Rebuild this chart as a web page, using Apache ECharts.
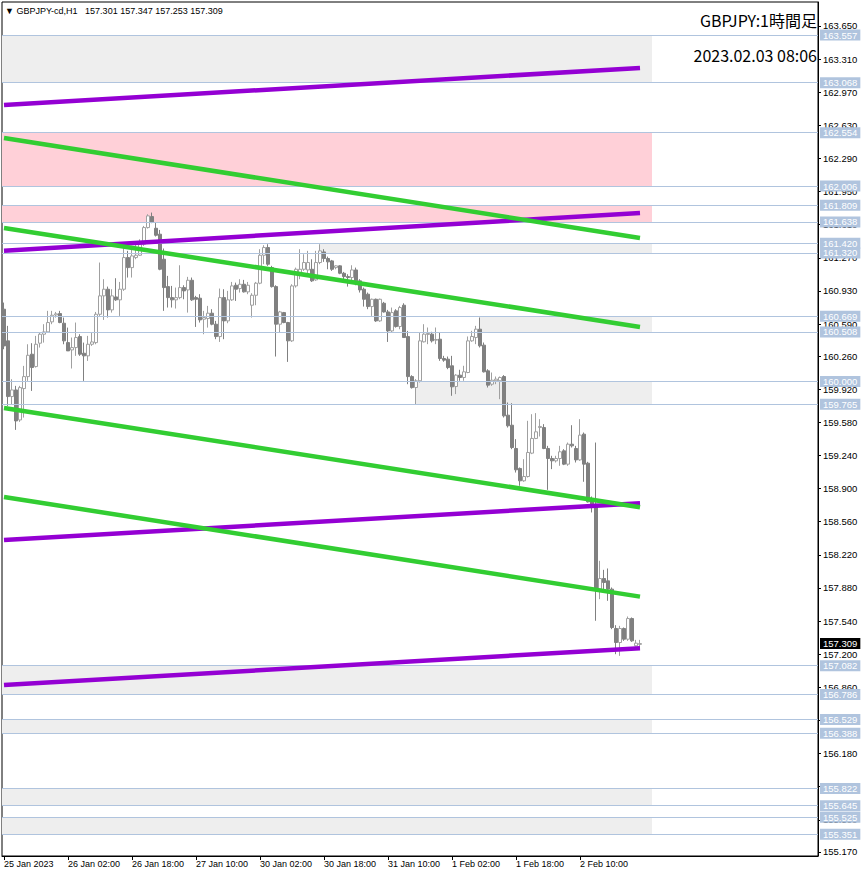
<!DOCTYPE html>
<html><head><meta charset="utf-8">
<script src="https://cdn.jsdelivr.net/npm/echarts@6/dist/echarts.min.js"></script>
<style>html,body{margin:0;padding:0;background:#fff}#c{width:866px;height:876px}</style>
</head><body><div id="c"></div>
<script>
// ---- candle data (GBPJPY H1) ----
const opens = [
160.742,160.417,159.845,159.913,159.605,159.927,160.050,160.280,160.153,160.393,
160.485,160.509,160.612,160.683,160.697,160.598,160.399,160.324,160.348,160.461,
160.290,160.263,160.382,160.399,160.690,160.879,160.947,160.735,160.868,160.838,
160.947,161.272,161.169,161.272,161.296,161.409,161.580,161.693,161.573,161.512,
161.255,160.974,160.861,160.838,160.861,160.964,160.940,161.039,160.861,160.855,
160.639,160.646,160.701,160.588,160.461,160.861,160.622,160.838,160.988,160.954,
160.998,160.920,160.783,160.885,161.009,161.296,161.375,161.169,160.974,160.588,
160.707,160.605,160.417,160.981,161.101,161.152,161.145,161.152,161.043,161.221,
161.330,161.262,161.238,161.169,161.187,161.111,161.077,161.067,161.145,161.033,
160.947,160.896,160.769,160.844,160.622,160.803,160.714,160.519,160.725,160.564,
160.783,160.461,160.050,159.938,160.007,160.407,160.483,160.486,160.424,160.434,
160.236,160.229,160.161,159.948,160.065,160.041,160.092,160.417,160.451,160.537,
160.373,160.109,159.972,160.007,160.007,160.051,159.654,159.551,159.312,159.107,
158.980,159.024,159.264,159.415,159.527,159.527,159.312,159.209,159.185,159.209,
159.288,159.151,159.356,159.312,159.195,159.459,159.161,158.792,158.740,157.868,
157.977,157.953,157.868,157.464,157.320,157.464,157.354,157.566,157.286,157.301];
const highs = [
160.810,160.571,160.023,159.955,159.955,160.160,160.382,160.393,160.468,160.502,
160.588,160.725,160.725,160.714,160.725,160.656,160.553,160.451,160.605,160.485,
160.399,160.468,160.502,160.714,161.221,161.050,160.974,160.947,161.060,161.022,
161.426,161.341,161.392,161.409,161.460,161.597,161.717,161.734,161.631,161.556,
161.365,161.084,160.981,160.964,161.193,160.988,161.074,161.067,160.879,160.896,
160.725,160.776,160.742,160.622,160.954,160.947,160.930,161.022,161.015,161.050,
161.043,161.022,160.906,161.022,161.358,161.399,161.409,161.187,160.988,160.725,
160.714,160.612,160.998,161.169,161.358,161.306,161.341,161.255,161.341,161.409,
161.358,161.282,161.248,161.193,161.193,161.125,161.101,161.193,161.169,161.050,
160.964,160.913,160.851,160.851,160.851,160.817,160.735,160.759,160.742,160.776,
160.803,160.519,160.064,160.024,160.503,160.588,160.554,160.510,160.554,160.503,
160.263,160.256,160.263,160.075,160.120,160.161,160.462,160.520,160.571,160.657,
160.400,160.126,160.092,160.051,160.051,160.065,159.784,159.777,159.408,159.117,
159.202,159.596,159.664,159.675,159.613,159.562,159.339,159.237,159.237,159.339,
159.305,159.373,159.551,159.339,159.613,159.476,159.175,158.819,159.373,158.159,
158.066,158.080,157.885,157.498,157.491,157.474,157.587,157.577,157.347,157.347];
const lows = [
160.331,159.749,159.766,159.503,159.585,159.629,160.006,159.903,160.143,160.348,
160.399,160.502,160.588,160.656,160.598,160.382,160.314,160.133,160.263,160.263,
160.006,160.211,160.365,160.382,160.673,160.632,160.656,160.707,160.827,160.673,
160.930,161.067,161.067,161.255,161.289,161.392,161.570,161.625,161.488,161.142,
160.725,160.759,160.759,160.749,160.844,160.844,160.707,160.827,160.560,160.605,
160.485,160.553,160.577,160.434,160.406,160.434,160.598,160.827,160.827,160.913,
160.913,160.896,160.656,160.783,160.998,161.204,161.187,160.964,160.256,160.502,
160.598,160.201,160.406,160.964,161.050,161.135,161.077,161.022,161.033,161.204,
161.228,161.152,161.135,161.152,161.101,161.050,160.974,161.033,160.988,160.913,
160.769,160.742,160.673,160.612,160.612,160.707,160.406,160.502,160.553,160.536,
160.451,159.972,159.927,159.767,159.989,160.400,160.383,160.400,160.383,160.212,
160.202,160.126,159.853,159.870,160.007,160.007,160.085,160.407,160.383,160.349,
160.092,159.938,159.955,159.972,159.818,159.630,159.527,159.305,159.065,158.929,
158.970,159.014,159.254,159.408,159.435,159.305,158.887,159.100,159.168,159.134,
159.141,159.134,159.322,159.168,159.185,158.970,158.757,158.655,157.543,157.765,
157.868,157.748,157.457,157.200,157.183,157.337,157.337,157.327,157.279,157.253];
const closes = [
160.365,159.845,159.913,159.595,159.937,160.050,160.269,160.143,160.382,160.485,
160.509,160.605,160.680,160.694,160.605,160.417,160.314,160.348,160.451,160.280,
160.263,160.382,160.406,160.690,160.879,160.947,160.735,160.879,160.838,160.947,
161.272,161.169,161.289,161.296,161.409,161.580,161.700,161.638,161.501,161.152,
160.964,160.861,160.838,160.861,160.964,160.930,161.039,160.838,160.844,160.632,
160.656,160.701,160.588,160.461,160.861,160.622,160.838,160.981,160.947,160.998,
160.920,160.988,160.885,161.009,161.296,161.375,161.204,160.974,160.588,160.714,
160.605,160.417,160.981,161.152,161.152,161.221,161.221,161.033,161.221,161.341,
161.262,161.228,161.152,161.187,161.111,161.077,161.067,161.145,161.033,160.940,
160.844,160.769,160.844,160.622,160.844,160.714,160.519,160.707,160.564,160.759,
160.451,160.050,159.937,160.007,160.417,160.486,160.493,160.417,160.431,160.236,
160.219,160.143,159.945,160.065,160.041,160.099,160.417,160.462,160.537,160.366,
160.099,159.962,160.013,160.024,160.041,159.647,159.545,159.322,159.093,158.980,
159.024,159.271,159.415,159.483,159.538,159.312,159.209,159.185,159.209,159.278,
159.151,159.356,159.339,159.195,159.449,159.151,158.764,158.740,157.868,157.977,
157.936,157.868,157.474,157.320,157.464,157.354,157.566,157.337,157.313,157.309];

// time axis
const firstBarUTC = Date.UTC(2023, 0, 25, 10);
const totalSlots = 204;       // bars + empty space to the right
const xTickLabels = ['25 Jan 2023','26 Jan 02:00','26 Jan 18:00','27 Jan 10:00','30 Jan 02:00',
                     '30 Jan 18:00','31 Jan 10:00','1 Feb 02:00','1 Feb 18:00','2 Feb 10:00'];
const xTickEvery = 16;

// price axis tick labels
const yTicks = [163.650,163.310,162.970,162.630,162.290,161.950,161.610,161.270,160.930,160.590,
                160.260,159.920,159.580,159.240,158.900,158.560,158.220,157.880,157.540,157.200,
                156.860,156.520,156.180,155.840,155.500,155.170];

// horizontal levels
const levels = [163.557,163.068,162.554,162.006,161.809,161.638,161.420,161.320,160.669,160.508,
                160.000,159.765,157.082,156.786,156.529,156.388,155.822,155.645,155.525,155.351];
// zones
const zoneHigh = [163.557,162.554,161.809,161.420,160.669,160.000,157.082,156.529,155.822,155.525];
const zoneLow  = [163.068,162.006,161.638,161.320,160.508,159.765,156.786,156.388,155.645,155.351];
const zoneFrom = [null,null,null,79,119,103,null,null,null,null];
const zoneKind = ['gray','pink','pink','gray','gray','gray','gray','gray','gray','gray'];
const zoneTo = 162;

// trend lines (bar index 0 -> 159)
const trendFrom = 0, trendTo = 159;
const purpleStart = [162.839,161.343,158.373,156.884];
const purpleEnd   = [163.219,161.730,158.750,157.261];
const greenStart  = [162.500,161.576,159.728,158.814];
const greenEnd    = [161.473,160.560,158.709,157.791];

const lastPrice = 157.309;
const headerText = '▼ GBPJPY-cd,H1\u00a0\u00a0\u00a0157.301 157.347 157.253 157.309';
const titleText = 'GBPJPY:1時間足';
const dateText = '2023.02.03 08:06';

// ---- build ----
const MON = ['Jan','Feb','Mar','Apr','May','Jun','Jul','Aug','Sep','Oct','Nov','Dec'];
const categories = [];
let t = firstBarUTC;
while (categories.length < totalSlots) {
  const d = new Date(t);
  const wd = d.getUTCDay();
  if (wd !== 0 && wd !== 6) {
    categories.push(d.getUTCDate() + ' ' + MON[d.getUTCMonth()] + ' ' +
      String(d.getUTCHours()).padStart(2,'0') + ':00');
  }
  t += 3600000;
}
const candleData = opens.map((o, i) => [o, closes[i], lows[i], highs[i]]);
const nBars = opens.length;

const zoneColors = { gray: '#EEEEEE', pink: '#FFD0D8' };
const zoneAreas = zoneHigh.map((h, i) => {
  const a = { yAxis: h };
  if (zoneFrom[i] !== null) a.xAxis = zoneFrom[i];
  return [Object.assign(a, { itemStyle: { color: zoneColors[zoneKind[i]] } }),
          { xAxis: zoneTo, yAxis: zoneLow[i] }];
});

const FONT = 'Liberation Sans';
const trendSeries = [];
purpleStart.forEach((s, i) => trendSeries.push({
  type: 'line', z: 5, silent: true, symbol: 'none',
  data: [[trendFrom, s], [trendTo, purpleEnd[i]]],
  lineStyle: { color: '#9400D3', width: 4.5 }
}));
greenStart.forEach((s, i) => trendSeries.push({
  type: 'line', z: 5, silent: true, symbol: 'none',
  data: [[trendFrom, s], [trendTo, greenEnd[i]]],
  lineStyle: { color: '#32CD32', width: 4.5 }
}));

const chart = echarts.init(document.getElementById('c'), null, { renderer: 'svg' });
chart.setOption({
  animation: false,
  backgroundColor: '#ffffff',
  grid: { left: 2, right: 48, top: 2, bottom: 20, show: true, borderColor: '#000', borderWidth: 1, backgroundColor: 'transparent' },
  xAxis: {
    type: 'category', data: categories, boundaryGap: true,
    axisLine: { lineStyle: { color: '#000', width: 1 } },
    axisTick: { show: true, alignWithLabel: true, length: 4, lineStyle: { color: '#000' },
      interval: (i) => i % xTickEvery === 0 && i < nBars },
    axisLabel: { interval: (i) => i % xTickEvery === 0 && i < nBars, align: 'left', margin: 3,
      color: '#000', fontSize: 9, fontFamily: FONT,
      formatter: (v, i) => xTickLabels[i / xTickEvery] || '' },
    splitLine: { show: false }
  },
  yAxis: {
    type: 'value', position: 'right', min: 155.128, max: 163.896, scale: true,
    axisLine: { show: true, lineStyle: { color: '#000', width: 1 } },
    axisTick: { show: true, length: 3, customValues: yTicks, lineStyle: { color: '#000' } },
    axisLabel: { customValues: yTicks, margin: 5, color: '#000', fontSize: 9.5, fontFamily: FONT,
      formatter: (v) => v.toFixed(3) },
    splitLine: { show: false }
  },
  graphic: [
    { type: 'text', x: 5, y: 11, z: 10, style: { text: headerText, font: '9px "Liberation Sans"', fill: '#000', align: 'left', verticalAlign: 'middle' } },
    { type: 'text', x: 817, y: 20, z: 10, style: { text: titleText, font: '16px "Noto Sans CJK JP"', fill: '#000', align: 'right', verticalAlign: 'middle' } },
    { type: 'text', x: 817, y: 55, z: 10, style: { text: dateText, font: '16px "Noto Sans CJK JP"', fill: '#000', align: 'right', verticalAlign: 'middle' } }
  ],
  series: [
    {
      type: 'line', z: 1, silent: true, data: [],
      markArea: { silent: true, data: zoneAreas, label: { show: false } },
      markLine: {
        silent: true, symbol: 'none', precision: 3,
        lineStyle: { color: '#B0C4DE', width: 1, type: 'solid' },
        label: { show: true, position: 'end', distance: 2, formatter: (p) => Number(p.value).toFixed(3),
          backgroundColor: '#B0C4DE', color: '#fff', fontSize: 9.5, fontFamily: FONT,
          padding: [1, 3, 0, 3], lineHeight: 10 },
        data: levels.map(v => ({ yAxis: v }))
      }
    },
    {
      type: 'candlestick', z: 3, barWidth: 3, data: candleData,
      itemStyle: { color: '#ffffff', borderColor: '#A0A0A0', color0: '#808080', borderColor0: '#808080', borderWidth: 1 }
    },
    ...trendSeries,
    {
      type: 'line', z: 6, silent: true, data: [],
      markLine: {
        silent: true, symbol: 'none', precision: 3,
        lineStyle: { color: 'rgba(0,0,0,0)', width: 0 },
        label: { show: true, position: 'end', distance: 2, formatter: (p) => Number(p.value).toFixed(3),
          backgroundColor: '#000', color: '#fff', fontSize: 9.5, fontFamily: FONT,
          padding: [1, 3, 0, 3], lineHeight: 10, opacity: 1 },
        emphasis: { disabled: true },
        data: [{ yAxis: lastPrice }]
      }
    }
  ]
});
</script></body></html>
